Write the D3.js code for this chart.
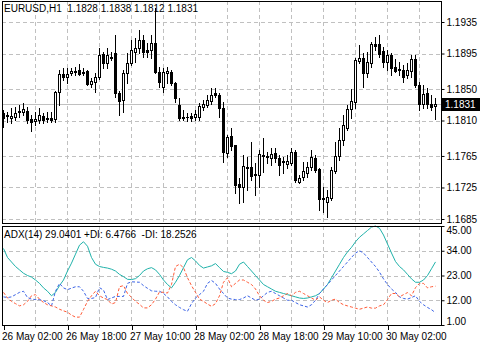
<html lang="en">
<head>
    <meta charset="UTF-8">
    <title>EURUSD H1 ADX</title>
    <script src="https://d3js.org/d3.v7.min.js"></script>
    <style>
        body { margin: 0; background: #fff; }
        text { font-family: "Liberation Sans", Arial, sans-serif; font-size: 10px; fill: #000; white-space: pre; }
        .grid { stroke: #c0c0c0; stroke-width: 1; stroke-dasharray: 4,3; shape-rendering: crispEdges; }
        .frame { fill: none; stroke: #000; stroke-width: 1; shape-rendering: crispEdges; }
    </style>
</head>
<body>
    <div id="chart"></div>
    <script>
        // tick labels
        var tickLabels = ["26 May 02:00", "26 May 18:00", "27 May 10:00", "28 May 02:00", "28 May 18:00", "29 May 10:00", "30 May 02:00"];
        var priceTicks = [1.1935, 1.1895, 1.1850, 1.1810, 1.1765, 1.1725, 1.1685];
        var adxTicks = [45, 34, 23, 12, 1];

        // candles, one per hour
        var openP = [1.1819,1.1816,1.1813,1.1814,1.1821,1.1821,1.1822,1.1812,1.1809,1.1811,1.1816,1.1812,1.1813,1.1812,1.1846,1.1869,1.1865,1.1870,1.1872,1.1874,
            1.1870,1.1873,1.1856,1.1859,1.1865,1.1894,1.1883,1.1889,1.1896,1.1845,1.1836,1.1870,1.1883,1.1897,1.1902,1.1912,1.1900,1.1900,1.1908,1.1872,
            1.1853,1.1870,1.1872,1.1858,1.1830,1.1814,1.1814,1.1816,1.1814,1.1814,1.1827,1.1830,1.1835,1.1845,1.1842,1.1826,1.1769,1.1790,1.1779,1.1729,
            1.1726,1.1751,1.1751,1.1742,1.1741,1.1765,1.1764,1.1762,1.1769,1.1762,1.1757,1.1755,1.1756,1.1770,1.1732,1.1738,1.1743,1.1751,1.1762,1.1748,
            1.1710,1.1706,1.1712,1.1746,1.1765,1.1785,1.1800,1.1825,1.1833,1.1886,1.1889,1.1870,1.1883,1.1907,1.1907,1.1898,1.1884,1.1893,1.1878,1.1875,
            1.1874,1.1868,1.1873,1.1888,1.1855,1.1831,1.1845,1.1831,1.1828];
        var highP = [1.1823,1.1821,1.1826,1.1827,1.1830,1.1832,1.1827,1.1817,1.1821,1.1826,1.1819,1.1821,1.1821,1.1847,1.1874,1.1877,1.1877,1.1877,1.1878,1.1882,
            1.1877,1.1874,1.1864,1.1870,1.1902,1.1897,1.1902,1.1897,1.1919,1.1847,1.1874,1.1896,1.1912,1.1915,1.1925,1.1919,1.1908,1.1919,1.1953,1.1878,
            1.1877,1.1878,1.1874,1.1859,1.1839,1.1823,1.1819,1.1819,1.1823,1.1832,1.1836,1.1842,1.1851,1.1851,1.1845,1.1833,1.1792,1.1800,1.1779,1.1737,
            1.1766,1.1764,1.1783,1.1756,1.1773,1.1788,1.1770,1.1775,1.1775,1.1766,1.1764,1.1766,1.1775,1.1773,1.1741,1.1757,1.1757,1.1773,1.1766,1.1750,
            1.1726,1.1722,1.1751,1.1783,1.1800,1.1817,1.1830,1.1850,1.1889,1.1906,1.1896,1.1897,1.1910,1.1916,1.1919,1.1903,1.1900,1.1896,1.1888,1.1884,
            1.1880,1.1883,1.1893,1.1893,1.1859,1.1855,1.1851,1.1842,1.1838];
        var lowP = [1.1802,1.1808,1.1807,1.1811,1.1814,1.1817,1.1807,1.1797,1.1804,1.1807,1.1807,1.1808,1.1808,1.1808,1.1830,1.1861,1.1858,1.1868,1.1868,1.1868,
            1.1868,1.1855,1.1853,1.1846,1.1863,1.1877,1.1877,1.1887,1.1840,1.1817,1.1821,1.1858,1.1880,1.1884,1.1896,1.1891,1.1891,1.1889,1.1870,1.1853,
            1.1846,1.1858,1.1855,1.1833,1.1811,1.1811,1.1809,1.1809,1.1811,1.1811,1.1823,1.1827,1.1831,1.1840,1.1814,1.1757,1.1764,1.1773,1.1718,1.1705,
            1.1706,1.1722,1.1734,1.1715,1.1726,1.1745,1.1756,1.1753,1.1757,1.1741,1.1743,1.1750,1.1753,1.1732,1.1731,1.1734,1.1738,1.1747,1.1745,1.1696,
            1.1694,1.1687,1.1709,1.1743,1.1760,1.1779,1.1798,1.1813,1.1826,1.1883,1.1853,1.1865,1.1878,1.1900,1.1891,1.1878,1.1874,1.1868,1.1872,1.1868,
            1.1859,1.1864,1.1865,1.1853,1.1823,1.1826,1.1826,1.1823,1.1812];
        var closeP = [1.1813,1.1817,1.1816,1.1819,1.1822,1.1825,1.1811,1.1808,1.1812,1.1817,1.1811,1.1813,1.1811,1.1846,1.1869,1.1865,1.1869,1.1873,1.1873,1.1869,
            1.1872,1.1856,1.1860,1.1865,1.1893,1.1883,1.1893,1.1890,1.1845,1.1835,1.1870,1.1883,1.1900,1.1902,1.1912,1.1897,1.1897,1.1908,1.1872,1.1859,
            1.1872,1.1873,1.1858,1.1839,1.1813,1.1813,1.1815,1.1813,1.1818,1.1828,1.1831,1.1836,1.1842,1.1842,1.1826,1.1770,1.1789,1.1778,1.1728,1.1726,
            1.1752,1.1750,1.1740,1.1741,1.1767,1.1766,1.1765,1.1767,1.1762,1.1753,1.1758,1.1759,1.1770,1.1734,1.1737,1.1746,1.1751,1.1764,1.1747,1.1710,
            1.1712,1.1713,1.1747,1.1765,1.1785,1.1804,1.1825,1.1835,1.1887,1.1889,1.1870,1.1884,1.1907,1.1905,1.1894,1.1884,1.1893,1.1877,1.1873,1.1874,
            1.1865,1.1874,1.1888,1.1855,1.1831,1.1844,1.1831,1.1827,1.1831];

        // ADX(14) lines
        var adx = [35,31,29,27,25.5,24,23,22.3,21,19.5,17.5,16,14,15.5,18.5,21,25,28.5,32.5,36.5,
            38,36,31,28,27,26.6,26.3,25.8,25,23.5,22.5,21.3,21.2,21.6,23,25,26,26.5,25.5,23.5,
            21,19,17.5,20,23,26.5,30,31,29.5,27.5,26.3,26.8,27.3,28.3,26.5,24.8,24.4,23.8,25,28,
            29,27,25,23,21,19,18,17,16,15.5,15,14.5,14,13.5,13,12.8,13,13.5,14,15,
            17,19,22,25,28,31,33.5,35.5,38,40,41.5,43,44.5,45,44,41,37,33,29.2,27,
            25.5,23.5,21.5,20,20,21,23,26,29.04];
        var plusDI = [13.5,13.2,13.5,14.5,15.5,16,13.2,12.5,12.3,12.3,11.8,11,9.5,16,19.5,17.5,16.7,17.4,18,18,
            16,12.8,12.8,13.2,17.6,16.5,12.3,13,13.7,13.7,13.7,19.5,20.2,20.1,20,18.5,17.3,16.2,16,16,
            15,13.5,11.5,10,8.8,7.8,7.1,10.5,13,14.5,16,19.5,20.8,19.5,17,15,13,12.5,12.3,12.3,
            13,14,13,12,12.5,14,15.5,16,15,14,13,12,12,11,10,9.5,9,10,12,15,
            17,19,21,23,25,27,29,31,33,34,33,31,29,27,24.5,21.5,19,17,15.5,13.5,
            12.8,12.5,13.2,14,11.5,10,8.8,7.8,6.4766];
        var minusDI = [15.5,13,11.5,10.5,9.5,10,11.5,14,14.5,12.5,11,10,9.5,9,8,7.3,6.7,5.4,4.5,4.5,
            7.9,11.5,14,16,14,13,12.3,10.3,11,18,18.5,15,13.3,11.5,10.2,8.6,8.6,10,12.5,15.7,
            15.5,15.2,19,27,28,26.5,22,18.5,15.5,12.5,11.5,10.3,9.3,10.5,14,20,22,18,19.5,21,
            21,20,19,17,14,12,11,11.5,12.5,13,14,15,14,15.5,16,15,14,13,12,13.5,
            12,11,12,12.5,11,10,9.5,9,8.5,8,8.5,9,8.5,8.5,9.5,10,12.3,15,15,13.5,
            14.5,15.4,14,17.6,19.5,19.5,17.5,18,18.2526];

        var svg, xScale, yPrice, yAdx;
        var width = 480, height = 361;
        var left = 2, right = 441, mainTop = 1, mainBottom = 223, subTop = 226, subBottom = 325;

        function initChart(){
            svg = d3.select("#chart").append("svg")
                .attr("width", width)
                .attr("height", height);
            svg.append("rect").attr("width", width).attr("height", height).attr("fill", "#fff");
        }

        function configScales(){
            xScale = d3.scaleLinear()
                .domain([0, openP.length - 1])
                .range([3.5, 3.5 + 4 * (openP.length - 1)]);

            yPrice = d3.scaleLinear()
                .domain([1.1935, 1.1685])
                .range([22, 219]);

            yAdx = d3.scaleLinear()
                .domain([45, 1])
                .range([subTop, subBottom]);
        }

        function drawGrid(){
            var vticks = d3.range(8, openP.length, 8);
            var g = svg.append("g");
            priceTicks.forEach(function(p){
                var y = Math.round(yPrice(p)) + 0.5;
                g.append("line").attr("class", "grid").attr("x1", left).attr("x2", right).attr("y1", y).attr("y2", y);
            });
            [34, 23, 12].forEach(function(v){
                var y = Math.round(yAdx(v)) + 0.5;
                g.append("line").attr("class", "grid").attr("x1", left).attr("x2", right).attr("y1", y).attr("y2", y);
            });
            vticks.forEach(function(i){
                var x = xScale(i);
                g.append("line").attr("class", "grid").attr("x1", x).attr("x2", x).attr("y1", mainTop).attr("y2", mainBottom);
                g.append("line").attr("class", "grid").attr("x1", x).attr("x2", x).attr("y1", subTop).attr("y2", subBottom);
            });

            // current price line
            var yc = Math.round(yPrice(closeP[closeP.length - 1])) + 0.5;
            svg.append("line").attr("x1", left).attr("x2", right).attr("y1", yc).attr("y2", yc)
                .attr("stroke", "#c0c0c0").attr("shape-rendering", "crispEdges");
        }

        function drawCandles(){
            var g = svg.append("g").attr("shape-rendering", "crispEdges");
            openP.forEach(function(o, i){
                var c = closeP[i];
                var x = xScale(i);
                var yt = Math.round(yPrice(Math.max(o, c)));
                var yb = Math.round(yPrice(Math.min(o, c)));
                g.append("line")
                    .attr("x1", x).attr("x2", x)
                    .attr("y1", Math.round(yPrice(highP[i]))).attr("y2", Math.round(yPrice(lowP[i])) + 1)
                    .attr("stroke", "#000");
                if (yb - yt < 2) {
                    g.append("rect").attr("x", x - 1.5).attr("y", yt).attr("width", 3).attr("height", Math.max(1, yb - yt + 1)).attr("fill", "#000");
                } else if (c > o) {
                    g.append("rect").attr("x", x - 1).attr("y", yt + 0.5).attr("width", 2).attr("height", yb - yt)
                        .attr("fill", "#fff").attr("stroke", "#000");
                } else {
                    g.append("rect").attr("x", x - 1.5).attr("y", yt).attr("width", 3).attr("height", yb - yt + 1).attr("fill", "#000");
                }
            });
        }

        function drawAdx(){
            var line = function(arr){
                return d3.line()
                    .x(function(d, i){ return xScale(i); })
                    .y(function(d){ return yAdx(d); })(arr);
            };
            svg.append("path").attr("d", line(adx)).attr("fill", "none").attr("stroke", "#20b2aa").attr("stroke-width", 1);
            svg.append("path").attr("d", line(plusDI)).attr("fill", "none").attr("stroke", "#3c64e6").attr("stroke-width", 1).attr("stroke-dasharray", "3,2");
            svg.append("path").attr("d", line(minusDI)).attr("fill", "none").attr("stroke", "#ff5a36").attr("stroke-width", 1).attr("stroke-dasharray", "3,2");
        }

        function drawAxis(){
            // frames
            svg.append("rect").attr("class", "frame").attr("x", left + 0.5).attr("y", mainTop + 0.5).attr("width", right - left).attr("height", mainBottom - mainTop);
            svg.append("rect").attr("class", "frame").attr("x", left + 0.5).attr("y", subTop + 0.5).attr("width", right - left).attr("height", subBottom - subTop);

            var yAxis = d3.axisRight(yPrice)
                .tickValues(priceTicks)
                .tickSize(3)
                .tickPadding(2)
                .tickFormat(d3.format(".4f"));
            var ga = svg.append("g").attr("transform", "translate(" + (right + 0.5) + ",0)").call(yAxis);
            ga.select(".domain").remove();
            ga.selectAll("text").attr("font-size", null).attr("font-family", null);

            var adxAxis = d3.axisRight(yAdx)
                .tickValues(adxTicks)
                .tickSize(3)
                .tickPadding(2)
                .tickFormat(d3.format(".2f"));
            var gb = svg.append("g").attr("transform", "translate(" + (right + 0.5) + ",0)").call(adxAxis);
            gb.select(".domain").remove();
            gb.selectAll("text").attr("font-size", null).attr("font-family", null)
                .attr("dy", function(d){ return d == 45 ? "0.75em" : (d == 1 ? "-0.1em" : "0.32em"); });

            var xAxis = d3.axisBottom(xScale)
                .tickValues(d3.range(0, openP.length, 16))
                .tickSize(4)
                .tickPadding(3)
                .tickFormat(function(d){ return tickLabels[d / 16]; });
            var gx = svg.append("g").attr("transform", "translate(0," + (subBottom + 0.5) + ")").call(xAxis);
            gx.select(".domain").remove();
            gx.selectAll("text").attr("font-size", null).attr("font-family", null).attr("text-anchor", "start").attr("dx", "-2");
            gx.selectAll("line").attr("shape-rendering", "crispEdges");

            svg.append("g").selectAll("line").data(d3.range(8, openP.length, 16)).enter().append("line")
                .attr("x1", function(d){ return xScale(d); }).attr("x2", function(d){ return xScale(d); })
                .attr("y1", subBottom + 1).attr("y2", subBottom + 3)
                .attr("stroke", "#a0a0a0").attr("shape-rendering", "crispEdges");

            // current price marker
            var last = closeP[closeP.length - 1];
            var yc = Math.round(yPrice(last));
            svg.append("rect").attr("x", right + 1).attr("y", yc - 6).attr("width", 38).attr("height", 13).attr("fill", "#000");
            svg.append("text").attr("x", right + 4).attr("y", yc + 4).style("fill", "#fff").text(d3.format(".4f")(last));

            // titles
            svg.append("text").attr("x", 4).attr("y", 12)
                .text("EURUSD,H1  1.1828 1.1838 1.1812 1.1831");
            svg.append("text").attr("x", 4).attr("y", 238)
                .text("ADX(14) 29.0401 +DI: 6.4766  -DI: 18.2526");
        }

        initChart();
        configScales();
        drawGrid();
        drawCandles();
        drawAdx();
        drawAxis();
    </script>
</body>
</html>
